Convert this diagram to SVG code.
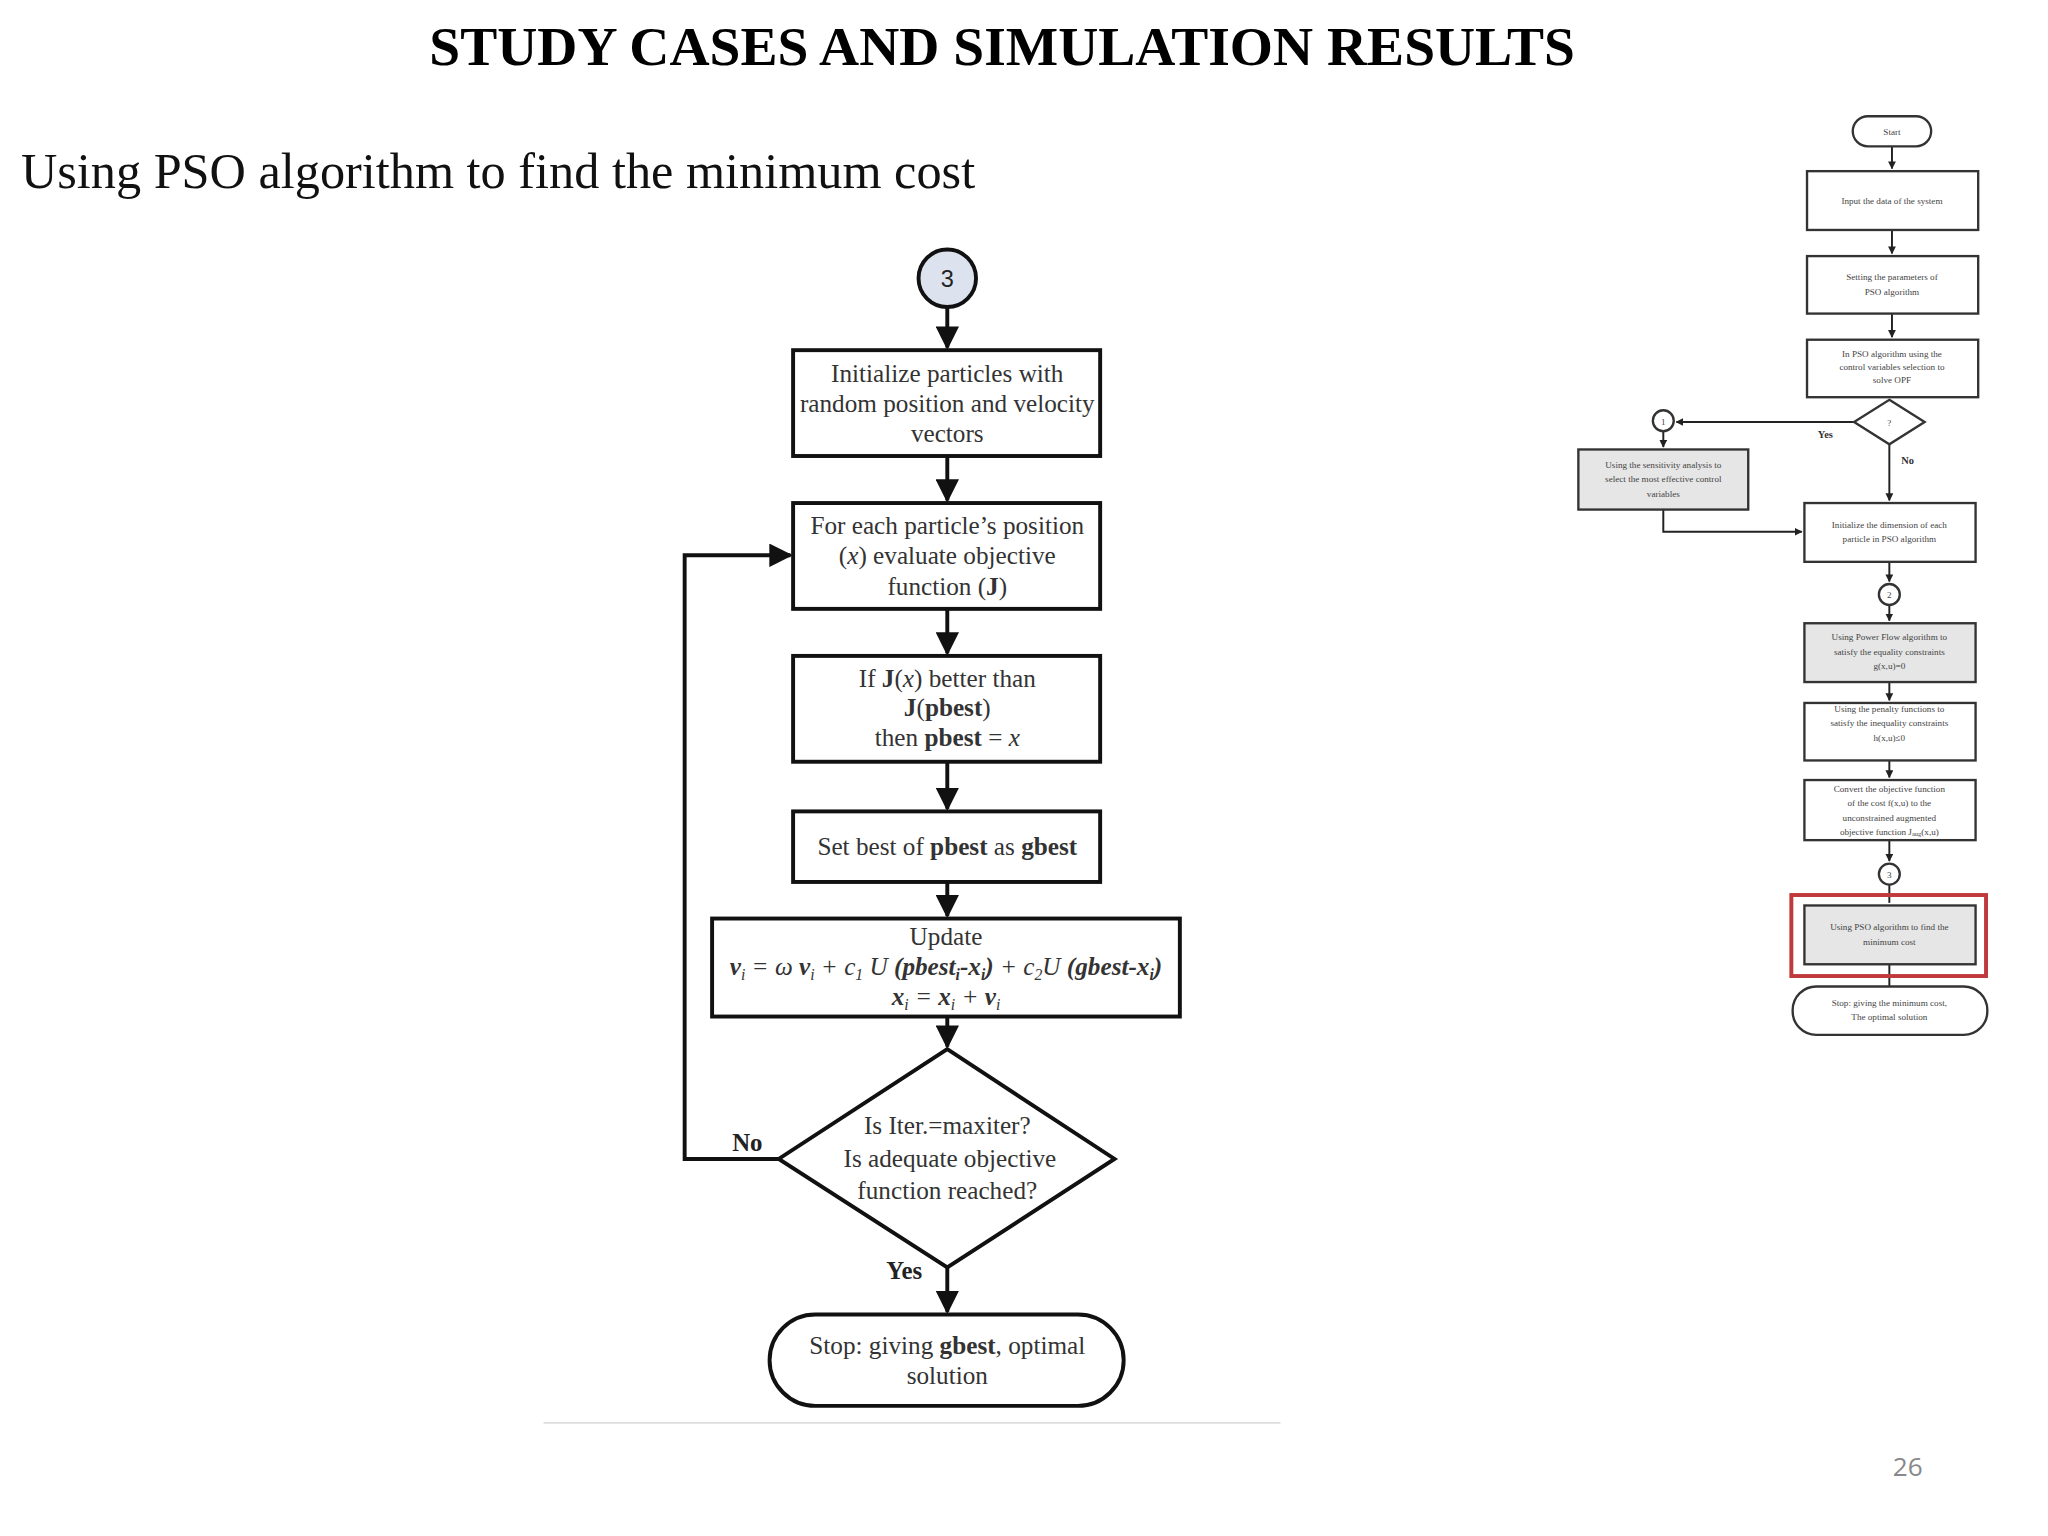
<svg xmlns="http://www.w3.org/2000/svg" width="2048" height="1536" viewBox="0 0 2048 1536">
<defs>
<marker id="ah" viewBox="0 0 10 10" refX="9" refY="5" markerWidth="6" markerHeight="6" orient="auto" markerUnits="strokeWidth"><path d="M0,0 L10,5 L0,10 z" fill="#111"/></marker>
<marker id="as" viewBox="0 0 10 10" refX="9" refY="5" markerWidth="4" markerHeight="4" orient="auto" markerUnits="strokeWidth"><path d="M0,0 L10,5 L0,10 z" fill="#222"/></marker>
</defs>
<style>
.b{fill:#fff;stroke:#111;stroke-width:3}
.t{font-family:"Liberation Serif",serif;font-size:19.3px;fill:#333;text-anchor:middle}
.c{fill:none;stroke:#111;stroke-width:3}
.sb{fill:#fff;stroke:#333;stroke-width:1.8}
.sg{fill:#e6e6e6;stroke:#333;stroke-width:1.8}
.st{font-family:"Liberation Serif",serif;font-size:7px;fill:#444;text-anchor:middle}
.sc{fill:none;stroke:#222;stroke-width:1.5}
</style>
<rect width="2048" height="1536" fill="#fff"/>
<g transform="scale(1.3066)">
<text x="767" y="50" font-family="Liberation Serif,serif" font-size="42.5" font-weight="bold" text-anchor="middle" fill="#000">STUDY CASES AND SIMULATION RESULTS</text>
<text x="16" y="144" font-family="Liberation Serif,serif" font-size="38.5" fill="#111">Using PSO algorithm to find the minimum cost</text>

<g id="connectors">
<path class="c" d="M725,235 V266" marker-end="url(#ah)"/>
<path class="c" d="M725,349 V383" marker-end="url(#ah)"/>
<path class="c" d="M725,466 V500" marker-end="url(#ah)"/>
<path class="c" d="M725,583 V619" marker-end="url(#ah)"/>
<path class="c" d="M725,675 V701" marker-end="url(#ah)"/>
<path class="c" d="M725,778 V801" marker-end="url(#ah)"/>
<path class="c" d="M725,970 V1004" marker-end="url(#ah)"/>
<path class="c" d="M596,887 H524 V425 H605" marker-end="url(#ah)"/>
<path d="M416,1089 H980" stroke="#ddd" stroke-width="1.5"/>
</g>
<text x="572" y="881" font-family="Liberation Serif,serif" font-size="19" font-weight="bold" text-anchor="middle" fill="#222">No</text>
<text x="692" y="979" font-family="Liberation Serif,serif" font-size="19" font-weight="bold" text-anchor="middle" fill="#222">Yes</text>

<g id="n3"><circle cx="725" cy="213" r="22" fill="#dde3ee" stroke="#111" stroke-width="3"/><text x="725" y="220" font-family="Liberation Sans,sans-serif" font-size="18" text-anchor="middle" fill="#222">3</text></g>
<g id="init"><rect class="b" x="607" y="268" width="235" height="81"/>
<text class="t" x="725" y="292">Initialize particles with</text><text class="t" x="725" y="315">random position and velocity</text><text class="t" x="725" y="338">vectors</text></g>
<g id="eval"><rect class="b" x="607" y="385" width="235" height="81"/>
<text class="t" x="725" y="409">For each particle’s position</text><text class="t" x="725" y="432">(<tspan font-style="italic">x</tspan>) evaluate objective</text><text class="t" x="725" y="455">function (<tspan font-weight="bold">J</tspan>)</text></g>
<g id="pbest"><rect class="b" x="607" y="502" width="235" height="81"/>
<text class="t" x="725" y="526">If <tspan font-weight="bold">J</tspan>(<tspan font-style="italic">x</tspan>) better than</text><text class="t" x="725" y="548"><tspan font-weight="bold">J</tspan>(<tspan font-weight="bold">pbest</tspan>)</text><text class="t" x="725" y="571">then <tspan font-weight="bold">pbest</tspan> = <tspan font-style="italic">x</tspan></text></g>
<g id="gbest"><rect class="b" x="607" y="621" width="235" height="54"/>
<text class="t" x="725" y="654">Set best of <tspan font-weight="bold">pbest</tspan> as <tspan font-weight="bold">gbest</tspan></text></g>
<g id="update"><rect class="b" x="545" y="703" width="358" height="75"/>
<text class="t" x="724" y="723">Update</text>
<text class="t" x="724" y="746" font-style="italic"><tspan font-weight="bold">v</tspan><tspan font-size="12" dy="4">i</tspan><tspan dy="-4"> = ω </tspan><tspan font-weight="bold">v</tspan><tspan font-size="12" dy="4">i</tspan><tspan dy="-4"> + c</tspan><tspan font-size="12" dy="4">1</tspan><tspan dy="-4"> U </tspan><tspan font-weight="bold">(pbest</tspan><tspan font-size="12" dy="4" font-weight="bold">i</tspan><tspan dy="-4" font-weight="bold">-x</tspan><tspan font-size="12" dy="4" font-weight="bold">i</tspan><tspan dy="-4" font-weight="bold">)</tspan><tspan> + c</tspan><tspan font-size="12" dy="4">2</tspan><tspan dy="-4">U </tspan><tspan font-weight="bold">(gbest-x</tspan><tspan font-size="12" dy="4" font-weight="bold">i</tspan><tspan dy="-4" font-weight="bold">)</tspan></text>
<text class="t" x="724" y="769" font-style="italic"><tspan font-weight="bold">x</tspan><tspan font-size="12" dy="4">i</tspan><tspan dy="-4"> = </tspan><tspan font-weight="bold">x</tspan><tspan font-size="12" dy="4">i</tspan><tspan dy="-4"> + </tspan><tspan font-weight="bold">v</tspan><tspan font-size="12" dy="4">i</tspan></text></g>
<g id="decision"><polygon class="b" points="725,803 853,887 725,970 596,887"/>
<text class="t" x="725" y="868">Is Iter.=maxiter?</text><text class="t" x="727" y="893">Is adequate objective</text><text class="t" x="725" y="918">function reached?</text></g>
<g id="stop"><rect class="b" x="589" y="1006" width="271" height="70" rx="35"/>
<text class="t" x="725" y="1036">Stop: giving <tspan font-weight="bold">gbest</tspan>, optimal</text><text class="t" x="725" y="1059">solution</text></g>

<g id="overview-connectors">
<path class="sc" d="M1448,112 V129" marker-end="url(#as)"/>
<path class="sc" d="M1448,176 V194" marker-end="url(#as)"/>
<path class="sc" d="M1448,240 V258" marker-end="url(#as)"/>
<path class="sc" d="M1419,323 H1283" marker-end="url(#as)"/>
<path class="sc" d="M1273,330 V342" marker-end="url(#as)"/>
<path class="sc" d="M1446,340 V383" marker-end="url(#as)"/>
<path class="sc" d="M1273,390 V407 H1379" marker-end="url(#as)"/>
<path class="sc" d="M1446,430 V445" marker-end="url(#as)"/>
<path class="sc" d="M1446,463 V475" marker-end="url(#as)"/>
<path class="sc" d="M1446,522 V536" marker-end="url(#as)"/>
<path class="sc" d="M1446,582 V595" marker-end="url(#as)"/>
<path class="sc" d="M1446,643 V659" marker-end="url(#as)"/>
<path class="sc" d="M1446,677 V691"/>
<path class="sc" d="M1446,738 V755"/>
</g>
<text x="1397" y="335" font-family="Liberation Serif,serif" font-size="8" font-weight="bold" text-anchor="middle" fill="#333">Yes</text>
<text x="1460" y="355" font-family="Liberation Serif,serif" font-size="8" font-weight="bold" text-anchor="middle" fill="#333">No</text>
<g id="o-start"><rect class="sb" x="1418" y="89" width="60" height="23" rx="11.5"/><text class="st" x="1448" y="103">Start</text></g>
<g id="o-input"><rect class="sb" x="1383" y="131" width="131" height="45"/><text class="st" x="1448" y="156">Input the data of the system</text></g>
<g id="o-param"><rect class="sb" x="1383" y="196" width="131" height="44"/><text class="st" x="1448" y="214">Setting the parameters of</text><text class="st" x="1448" y="226">PSO algorithm</text></g>
<g id="o-inpso"><rect class="sb" x="1383" y="260" width="131" height="44"/><text class="st" x="1448" y="273">In PSO algorithm using the</text><text class="st" x="1448" y="283">control variables selection to</text><text class="st" x="1448" y="293">solve OPF</text></g>
<g id="o-dec"><polygon class="sb" points="1446,306 1473,323 1446,340 1419,323"/><text class="st" x="1446" y="326" font-size="9">?</text></g>
<g id="o-c1"><circle class="sb" cx="1273" cy="322" r="8"/><text class="st" x="1273" y="325">1</text></g>
<g id="o-sens"><rect class="sg" x="1208" y="344" width="130" height="46"/><text class="st" x="1273" y="358">Using the sensitivity analysis to</text><text class="st" x="1273" y="369">select the most effective control</text><text class="st" x="1273" y="380">variables</text></g>
<g id="o-initdim"><rect class="sb" x="1381" y="385" width="131" height="45"/><text class="st" x="1446" y="404">Initialize the dimension of each</text><text class="st" x="1446" y="415">particle in PSO algorithm</text></g>
<g id="o-c2"><circle class="sb" cx="1446" cy="455" r="8"/><text class="st" x="1446" y="458">2</text></g>
<g id="o-pf"><rect class="sg" x="1381" y="477" width="131" height="45"/><text class="st" x="1446" y="490">Using Power Flow algorithm to</text><text class="st" x="1446" y="501">satisfy the equality constraints</text><text class="st" x="1446" y="512">g(x,u)=0</text></g>
<g id="o-pen"><rect class="sb" x="1381" y="538" width="131" height="44"/><text class="st" x="1446" y="545">Using the penalty functions to</text><text class="st" x="1446" y="556">satisfy the inequality constraints</text><text class="st" x="1446" y="567">h(x,u)≤0</text></g>
<g id="o-conv"><rect class="sb" x="1381" y="597" width="131" height="46"/><text class="st" x="1446" y="606">Convert the objective function</text><text class="st" x="1446" y="617">of the cost f(x,u) to the</text><text class="st" x="1446" y="628">unconstrained augmented</text><text class="st" x="1446" y="639">objective function J<tspan font-size="5" dy="1">aug</tspan><tspan dy="-1">(x,u)</tspan></text></g>
<g id="o-c3"><circle class="sb" cx="1446" cy="669" r="8"/><text class="st" x="1446" y="672">3</text></g>
<g id="o-pso"><rect class="sg" x="1381" y="693" width="131" height="45"/><text class="st" x="1446" y="712">Using PSO algorithm to find the</text><text class="st" x="1446" y="723">minimum cost</text></g>
<rect x="1371" y="685" width="149" height="62" fill="none" stroke="#c0393b" stroke-width="3"/>
<g id="o-stop"><rect class="sb" x="1372" y="755" width="149" height="37" rx="18"/><text class="st" x="1446" y="770">Stop: giving the minimum cost,</text><text class="st" x="1446" y="781">The optimal solution</text></g>

<text x="1460" y="1130" font-family="Open Sans,sans-serif" font-size="20" fill="#888" text-anchor="middle">26</text>
</g>
</svg>
